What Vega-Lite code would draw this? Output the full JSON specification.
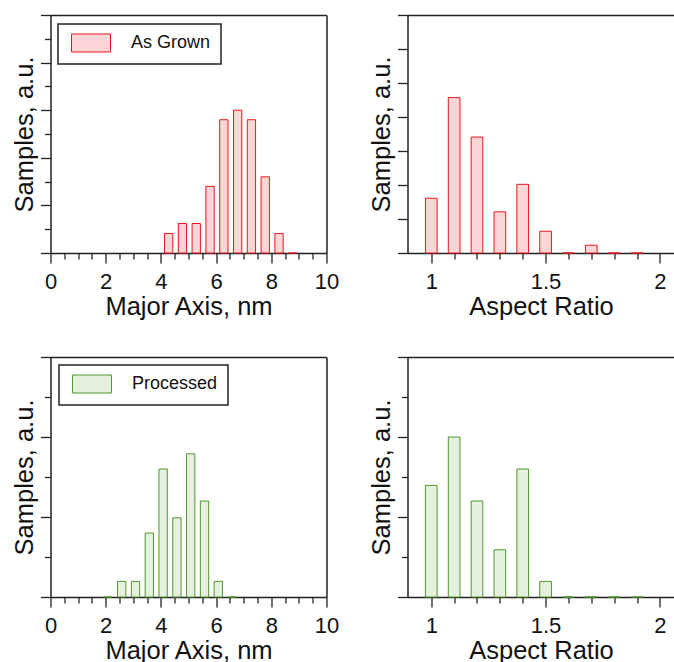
{
  "$schema": "https://vega.github.io/schema/vega-lite/v6.json",
  "padding": {"left": 12.5, "top": 14, "right": 0, "bottom": 0},
  "background": "white",
  "datasets": {
    "grownMajor": [
      {"major_axis_nm": 4.28, "samples": 0.82, "series": "As Grown"},
      {"major_axis_nm": 4.78, "samples": 1.24, "series": "As Grown"},
      {"major_axis_nm": 5.28, "samples": 1.24, "series": "As Grown"},
      {"major_axis_nm": 5.78, "samples": 2.8, "series": "As Grown"},
      {"major_axis_nm": 6.28, "samples": 5.6, "series": "As Grown"},
      {"major_axis_nm": 6.78, "samples": 6.0, "series": "As Grown"},
      {"major_axis_nm": 7.28, "samples": 5.6, "series": "As Grown"},
      {"major_axis_nm": 7.78, "samples": 3.2, "series": "As Grown"},
      {"major_axis_nm": 8.28, "samples": 0.82, "series": "As Grown"},
      {"major_axis_nm": 8.78, "samples": 0, "series": "As Grown"}
    ],
    "grownAR": [
      {"aspect_ratio": 1.0, "samples": 1.61},
      {"aspect_ratio": 1.1, "samples": 4.57},
      {"aspect_ratio": 1.2, "samples": 3.41},
      {"aspect_ratio": 1.3, "samples": 1.21},
      {"aspect_ratio": 1.4, "samples": 2.02},
      {"aspect_ratio": 1.5, "samples": 0.64},
      {"aspect_ratio": 1.6, "samples": 0},
      {"aspect_ratio": 1.7, "samples": 0.23},
      {"aspect_ratio": 1.8, "samples": 0},
      {"aspect_ratio": 1.9, "samples": 0}
    ],
    "procMajor": [
      {"major_axis_nm": 2.08, "samples": 0, "series": "Processed"},
      {"major_axis_nm": 2.58, "samples": 0.39, "series": "Processed"},
      {"major_axis_nm": 3.08, "samples": 0.39, "series": "Processed"},
      {"major_axis_nm": 3.58, "samples": 1.6, "series": "Processed"},
      {"major_axis_nm": 4.08, "samples": 3.2, "series": "Processed"},
      {"major_axis_nm": 4.58, "samples": 1.98, "series": "Processed"},
      {"major_axis_nm": 5.08, "samples": 3.58, "series": "Processed"},
      {"major_axis_nm": 5.58, "samples": 2.4, "series": "Processed"},
      {"major_axis_nm": 6.08, "samples": 0.39, "series": "Processed"},
      {"major_axis_nm": 6.58, "samples": 0, "series": "Processed"}
    ],
    "procAR": [
      {"aspect_ratio": 1.0, "samples": 2.79},
      {"aspect_ratio": 1.1, "samples": 4.0},
      {"aspect_ratio": 1.2, "samples": 2.4},
      {"aspect_ratio": 1.3, "samples": 1.18},
      {"aspect_ratio": 1.4, "samples": 3.2},
      {"aspect_ratio": 1.5, "samples": 0.39},
      {"aspect_ratio": 1.6, "samples": 0},
      {"aspect_ratio": 1.7, "samples": 0},
      {"aspect_ratio": 1.8, "samples": 0},
      {"aspect_ratio": 1.9, "samples": 0}
    ]
  },
  "spacing": 36,
  "resolve": {
    "scale": {"x": "independent", "y": "independent", "stroke": "independent"},
    "legend": {"stroke": "independent"}
  },
  "vconcat": [
    {
      "bounds": "flush",
      "spacing": 81,
      "resolve": {
        "scale": {"x": "independent", "y": "independent", "stroke": "independent"},
        "legend": {"stroke": "independent"}
      },
      "hconcat": [
        {
          "width": 276,
          "height": 238,
          "data": {"name": "grownMajor"},
          "resolve": {"axis": {"x": "independent", "y": "independent"}},
          "layer": [
            {
              "mark": {"type": "bar", "width": 8.3, "fill": "#fcd6d6", "strokeWidth": 1},
              "encoding": {
                "x": {"field": "major_axis_nm", "type": "quantitative",
                  "scale": {"domain": [0, 10], "nice": false, "zero": false, "padding": 0},
                  "axis": {"orient": "bottom", "values": [0, 2, 4, 6, 8, 10], "tickSize": 10, "domain": true, "title": "Major Axis, nm"}},
                "y": {"field": "samples", "type": "quantitative",
                  "scale": {"domain": [0, 10], "nice": false},
                  "axis": {"orient": "left", "values": [0, 2, 4, 6, 8, 10], "tickSize": 10, "labels": false, "domain": true, "title": "Samples, a.u."}},
                "stroke": {"field": "series", "type": "nominal",
                  "scale": {"domain": ["As Grown"], "range": ["#e8161c"]},
                  "legend": {"orient": "none", "legendX": 7.5, "legendY": 9, "symbolFillColor": "#fcd6d6"}}
              }
            },
            {
              "mark": {"type": "point", "opacity": 0},
              "encoding": {
                "x": {"field": "major_axis_nm", "type": "quantitative",
                  "axis": {"orient": "bottom", "values": [0.5, 1, 1.5, 2.5, 3, 3.5, 4.5, 5, 5.5, 6.5, 7, 7.5, 8.5, 9, 9.5], "tickSize": 6, "labels": false, "title": null}},
                "y": {"field": "samples", "type": "quantitative",
                  "axis": {"orient": "left", "values": [1, 3, 5, 7, 9], "tickSize": 6, "labels": false, "title": null}}
              }
            },
            {
              "mark": {"type": "point", "opacity": 0},
              "encoding": {
                "x": {"field": "major_axis_nm", "type": "quantitative",
                  "axis": {"orient": "top", "ticks": false, "labels": false, "domain": true, "title": null}},
                "y": {"field": "samples", "type": "quantitative",
                  "axis": {"orient": "right", "ticks": false, "labels": false, "domain": true, "title": null}}
              }
            }
          ]
        },
        {
          "width": 267,
          "height": 238,
          "data": {"name": "grownAR"},
          "resolve": {"axis": {"x": "independent", "y": "independent"}},
          "layer": [
            {
              "mark": {"type": "bar", "width": 11.7, "fill": "#fcd6d6", "stroke": "#e8161c", "strokeWidth": 1},
              "encoding": {
                "x": {"field": "aspect_ratio", "type": "quantitative",
                  "scale": {"domain": [0.896, 2.064], "nice": false, "zero": false, "padding": 0},
                  "axis": {"orient": "bottom", "values": [1, 1.5, 2], "format": "~g", "tickSize": 10, "domain": true, "title": "Aspect Ratio"}},
                "y": {"field": "samples", "type": "quantitative",
                  "scale": {"domain": [0, 7], "nice": false},
                  "axis": {"orient": "left", "values": [0, 1, 2, 3, 4, 5, 6, 7], "tickSize": 10, "labels": false, "domain": true, "title": "Samples, a.u."}}
              }
            },
            {
              "mark": {"type": "point", "opacity": 0},
              "encoding": {
                "x": {"field": "aspect_ratio", "type": "quantitative",
                  "axis": {"orient": "bottom", "values": [1.1, 1.2, 1.3, 1.4, 1.6, 1.7, 1.8, 1.9], "tickSize": 6, "labels": false, "title": null}},
                "y": {"field": "samples", "type": "quantitative", "axis": null}
              }
            },
            {
              "mark": {"type": "point", "opacity": 0},
              "encoding": {
                "x": {"field": "aspect_ratio", "type": "quantitative",
                  "axis": {"orient": "top", "ticks": false, "labels": false, "domain": true, "title": null}},
                "y": {"field": "samples", "type": "quantitative", "axis": null}
              }
            }
          ]
        }
      ]
    },
    {
      "bounds": "flush",
      "spacing": 81,
      "resolve": {
        "scale": {"x": "independent", "y": "independent", "stroke": "independent"},
        "legend": {"stroke": "independent"}
      },
      "hconcat": [
        {
          "width": 276,
          "height": 240,
          "data": {"name": "procMajor"},
          "resolve": {"axis": {"x": "independent", "y": "independent"}},
          "layer": [
            {
              "mark": {"type": "bar", "width": 8.3, "fill": "#e6f0df", "strokeWidth": 1},
              "encoding": {
                "x": {"field": "major_axis_nm", "type": "quantitative",
                  "scale": {"domain": [0, 10], "nice": false, "zero": false, "padding": 0},
                  "axis": {"orient": "bottom", "values": [0, 2, 4, 6, 8, 10], "tickSize": 10, "domain": true, "title": "Major Axis, nm"}},
                "y": {"field": "samples", "type": "quantitative",
                  "scale": {"domain": [0, 6], "nice": false},
                  "axis": {"orient": "left", "values": [0, 2, 4, 6], "tickSize": 10, "labels": false, "domain": true, "title": "Samples, a.u."}},
                "stroke": {"field": "series", "type": "nominal",
                  "scale": {"domain": ["Processed"], "range": ["#4f982c"]},
                  "legend": {"orient": "none", "legendX": 8.5, "legendY": 8, "symbolFillColor": "#e6f0df"}}
              }
            },
            {
              "mark": {"type": "point", "opacity": 0},
              "encoding": {
                "x": {"field": "major_axis_nm", "type": "quantitative",
                  "axis": {"orient": "bottom", "values": [0.5, 1, 1.5, 2.5, 3, 3.5, 4.5, 5, 5.5, 6.5, 7, 7.5, 8.5, 9, 9.5], "tickSize": 6, "labels": false, "title": null}},
                "y": {"field": "samples", "type": "quantitative",
                  "axis": {"orient": "left", "values": [1, 3, 5], "tickSize": 6, "labels": false, "title": null}}
              }
            },
            {
              "mark": {"type": "point", "opacity": 0},
              "encoding": {
                "x": {"field": "major_axis_nm", "type": "quantitative",
                  "axis": {"orient": "top", "ticks": false, "labels": false, "domain": true, "title": null}},
                "y": {"field": "samples", "type": "quantitative",
                  "axis": {"orient": "right", "ticks": false, "labels": false, "domain": true, "title": null}}
              }
            }
          ]
        },
        {
          "width": 267,
          "height": 240,
          "data": {"name": "procAR"},
          "resolve": {"axis": {"x": "independent", "y": "independent"}},
          "layer": [
            {
              "mark": {"type": "bar", "width": 11.7, "fill": "#e6f0df", "stroke": "#4f982c", "strokeWidth": 1},
              "encoding": {
                "x": {"field": "aspect_ratio", "type": "quantitative",
                  "scale": {"domain": [0.896, 2.064], "nice": false, "zero": false, "padding": 0},
                  "axis": {"orient": "bottom", "values": [1, 1.5, 2], "format": "~g", "tickSize": 10, "domain": true, "title": "Aspect Ratio"}},
                "y": {"field": "samples", "type": "quantitative",
                  "scale": {"domain": [0, 6], "nice": false},
                  "axis": {"orient": "left", "values": [0, 2, 4, 6], "tickSize": 10, "labels": false, "domain": true, "title": "Samples, a.u."}}
              }
            },
            {
              "mark": {"type": "point", "opacity": 0},
              "encoding": {
                "x": {"field": "aspect_ratio", "type": "quantitative",
                  "axis": {"orient": "bottom", "values": [1.1, 1.2, 1.3, 1.4, 1.6, 1.7, 1.8, 1.9], "tickSize": 6, "labels": false, "title": null}},
                "y": {"field": "samples", "type": "quantitative",
                  "axis": {"orient": "left", "values": [1, 3, 5], "tickSize": 6, "labels": false, "title": null}}
              }
            },
            {
              "mark": {"type": "point", "opacity": 0},
              "encoding": {
                "x": {"field": "aspect_ratio", "type": "quantitative",
                  "axis": {"orient": "top", "ticks": false, "labels": false, "domain": true, "title": null}},
                "y": {"field": "samples", "type": "quantitative", "axis": null}
              }
            }
          ]
        }
      ]
    }
  ],
  "config": {
    "font": "Liberation Sans",
    "view": {"stroke": null},
    "axis": {
      "grid": false,
      "domain": false,
      "domainColor": "#222",
      "domainWidth": 1.5,
      "tickColor": "#222",
      "tickWidth": 1.3,
      "labelFontSize": 22,
      "labelColor": "#111",
      "labelPadding": 8,
      "labelFlush": false,
      "labelOverlap": false,
      "titleFontSize": 25.5,
      "titleFontWeight": "normal",
      "titleColor": "#111",
      "titlePadding": 2
    },
    "axisY": {"titlePadding": 2.3},
    "legend": {
      "title": null,
      "symbolType": "M-3.9,-1.8H3.9V1.8H-3.9Z",
      "symbolSize": 100,
      "symbolStrokeWidth": 1,
      "labelFontSize": 18,
      "labelColor": "#111",
      "labelOffset": 31,
      "padding": 10,
      "symbolOffset": 14,
      "strokeColor": "#222",
      "strokeWidth": 1.5
    }
  }
}
